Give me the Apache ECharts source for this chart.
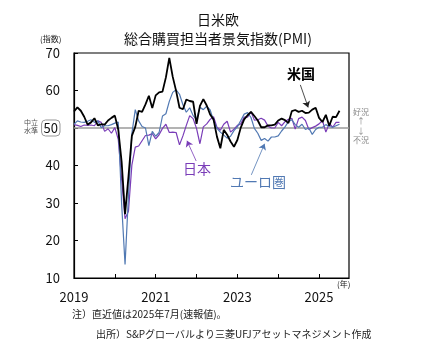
<!DOCTYPE html>
<html>
<head>
<meta charset="utf-8">
<script src="https://cdn.jsdelivr.net/npm/echarts@6/dist/echarts.min.js"></script>
<style>
html, body { margin: 0; padding: 0; background: #fff; }
#chart { width: 421px; height: 350px; }
</style>
</head>
<body>
<div id="chart"></div>
<script>
// 月次データ 2019年1月〜2025年7月
var startYear = 2019;

var usPmi = [
    54.4, 55.5, 54.6, 53.0, 50.9, 51.5, 52.6, 50.7, 51.0, 50.9, 52.0, 52.7,
    53.3, 49.6, 40.9, 27.0, 37.0, 47.9, 50.3, 54.6, 54.3, 56.3, 58.6, 55.3,
    58.7, 59.5, 59.7, 63.5, 68.7, 63.7, 59.9, 55.4, 55.0, 57.6, 57.2, 57.0,
    51.1, 55.9, 57.7, 56.0, 53.6, 52.3, 47.7, 44.6, 49.5, 48.2, 46.4, 45.0,
    46.8, 50.1, 52.3, 53.4, 54.3, 53.2, 52.0, 50.2, 50.2, 50.7, 50.7, 50.9,
    52.0, 52.5, 52.1, 51.3, 54.5, 54.8, 54.3, 54.6, 54.0, 54.1, 54.9, 55.4,
    52.7, 51.6, 53.5, 50.6, 53.0, 52.9, 54.6
];

var euroPmi = [
    51.0, 51.9, 51.6, 51.5, 51.8, 52.2, 51.5, 51.9, 50.1, 50.6, 50.6, 50.9,
    51.3, 51.6, 29.7, 13.6, 31.9, 48.5, 54.9, 51.9, 50.4, 50.0, 45.3, 49.1,
    47.8, 48.8, 53.2, 53.8, 57.1, 59.5, 60.2, 59.0, 56.2, 54.2, 55.4, 53.3,
    52.3, 55.5, 54.9, 55.8, 54.8, 52.0, 49.9, 48.9, 48.1, 47.3, 47.8, 49.3,
    50.3, 52.0, 53.7, 54.1, 52.8, 49.9, 48.6, 46.7, 47.2, 46.5, 47.6, 47.6,
    47.9, 49.2, 50.3, 51.7, 52.2, 50.9, 50.2, 51.0, 49.6, 50.0, 48.3, 49.6,
    50.2, 50.2, 50.9, 50.4, 50.2, 50.6, 51.0
];

var japanPmi = [
    50.9, 50.7, 50.4, 50.8, 50.7, 50.8, 50.6, 51.9, 51.5, 49.1, 49.8, 48.6,
    50.1, 47.0, 36.2, 25.8, 27.8, 40.1, 44.9, 45.2, 46.6, 48.0, 48.1, 48.5,
    47.1, 48.2, 49.9, 51.0, 48.8, 48.9, 48.8, 45.5, 47.9, 50.7, 53.3, 52.5,
    49.9, 45.8, 50.3, 51.1, 52.3, 53.0, 50.2, 49.4, 51.0, 51.8, 48.9, 49.7,
    50.7, 51.1, 52.9, 52.9, 54.3, 52.1, 52.2, 52.6, 52.1, 50.5, 50.0, 50.0,
    51.5, 50.6, 51.7, 52.3, 52.6, 49.7, 52.5, 52.9, 52.0, 49.6, 50.1, 50.5,
    51.1, 52.0, 48.9, 51.2, 50.2, 51.5, 51.5
];

var seriesNames = ['米国', '日本', 'ユーロ圏'];
var neutralLevel = 50;

function toPairs(arr) {
    return arr.map(function (v, i) {
        return [i, v];
    });
}

var chart = echarts.init(document.getElementById('chart'));
var jpFont = '"Noto Sans CJK JP", "Noto Sans", sans-serif';

var option = {
    animation: false,
    textStyle: { fontFamily: jpFont },
    title: {
        text: '日米欧\n総合購買担当者景気指数(PMI)',
        left: 213,
        textAlign: 'center',
        top: 5,
        textStyle: { fontSize: 14, fontWeight: 'normal', color: '#111', lineHeight: 19, fontFamily: jpFont }
    },
    grid: {
        left: 74, right: 72, top: 53, bottom: 72,
        show: true, borderColor: '#000', borderWidth: 1.2
    },
    xAxis: {
        type: 'value',
        min: 0,
        max: 80.8,
        interval: 12,
        splitLine: { show: false },
        axisLine: { lineStyle: { color: '#000', width: 1.2 } },
        axisTick: { inside: true, length: 4, lineStyle: { color: '#000' } },
        axisLabel: {
            margin: 13,
            fontSize: 13,
            color: '#111',
            showMaxLabel: false,
            formatter: function (v) {
                if (v % 24 === 0) {
                    return String(startYear + v / 12);
                }
                return '';
            }
        }
    },
    yAxis: {
        type: 'value',
        min: 10,
        max: 70,
        interval: 10,
        splitLine: { show: false },
        axisLine: { show: true, lineStyle: { color: '#000', width: 1.2 } },
        axisTick: { show: true, inside: true, length: 4, lineStyle: { color: '#000' } },
        axisLabel: {
            margin: 14,
            fontSize: 13,
            color: '#111',
            formatter: function (v) {
                if (v === neutralLevel) {
                    return '{box|' + v + '}';
                }
                return v;
            },
            rich: {
                box: {
                    fontSize: 13,
                    color: '#111',
                    borderColor: '#999',
                    borderWidth: 1,
                    borderRadius: 4,
                    padding: [2, 2, 1, 2]
                }
            }
        }
    },
    series: [
        {
            name: seriesNames[1],
            type: 'line',
            data: toPairs(japanPmi),
            symbol: 'none',
            lineStyle: { color: '#7a3db8', width: 1.2 },
            z: 3,
            markLine: {
                silent: true,
                symbol: 'none',
                label: { show: false },
                lineStyle: { color: '#9a9a9a', width: 1.5, type: 'solid' },
                data: [{ yAxis: neutralLevel }],
                z: 1
            }
        },
        {
            name: seriesNames[2],
            type: 'line',
            data: toPairs(euroPmi),
            symbol: 'none',
            lineStyle: { color: '#5179b3', width: 1.2 },
            z: 4
        },
        {
            name: seriesNames[0],
            type: 'line',
            data: toPairs(usPmi),
            symbol: 'none',
            lineStyle: { color: '#000', width: 1.8 },
            z: 5,
            markLine: {
                silent: true,
                symbol: ['none', 'arrow'],
                symbolSize: 6,
                label: { show: false },
                data: [
                    [{ coord: [66.5, 61.5], lineStyle: { color: '#222', width: 0.8, type: 'solid' } }, { coord: [68.8, 55.5] }],
                    [{ coord: [35.9, 41.2], lineStyle: { color: '#7a3db8', width: 0.8, type: 'solid' } }, { coord: [33.2, 46.6] }],
                    [{ coord: [52.1, 37.5], lineStyle: { color: '#5179b3', width: 0.8, type: 'solid' } }, { coord: [56.0, 45.8] }]
                ]
            }
        }
    ],
    graphic: [
        { type: 'text', left: 40, top: 35, style: { text: '(指数)', fontSize: 8, fill: '#222', fontFamily: jpFont } },
        { type: 'text', left: 24, top: 118, style: { text: '中立\n水準', fontSize: 7, lineHeight: 8, fill: '#555', fontFamily: jpFont } },
        { type: 'text', left: 337, top: 280, style: { text: '(年)', fontSize: 8, fill: '#222', fontFamily: jpFont } },
        { type: 'text', left: 353, top: 108, style: { text: '好況', fontSize: 8, fill: '#888', fontFamily: jpFont } },
        { type: 'text', left: 357, top: 116, style: { text: '↑\n↓', fontSize: 8, lineHeight: 10, fill: '#888', fontFamily: jpFont } },
        { type: 'text', left: 353, top: 136, style: { text: '不況', fontSize: 8, fill: '#888', fontFamily: jpFont } },
        { type: 'text', left: 287, top: 67, style: { text: seriesNames[0], fontSize: 14, fontWeight: 'bold', fill: '#000', fontFamily: jpFont } },
        { type: 'text', left: 183, top: 162, style: { text: seriesNames[1], fontSize: 14, fill: '#7a3db8', fontFamily: jpFont } },
        { type: 'text', left: 230, top: 175, style: { text: seriesNames[2], fontSize: 14, fill: '#5179b3', fontFamily: jpFont } },
        { type: 'text', left: 72, top: 309, style: { text: '注）直近値は2025年7月(速報値)。', fontSize: 10, fill: '#222', fontFamily: jpFont } },
        { type: 'text', left: 96, top: 329, style: { text: '出所）S&Pグローバルより三菱UFJアセットマネジメント作成', fontSize: 10, fill: '#222', fontFamily: jpFont } }
    ]
};

chart.setOption(option);
</script>
</body>
</html>
